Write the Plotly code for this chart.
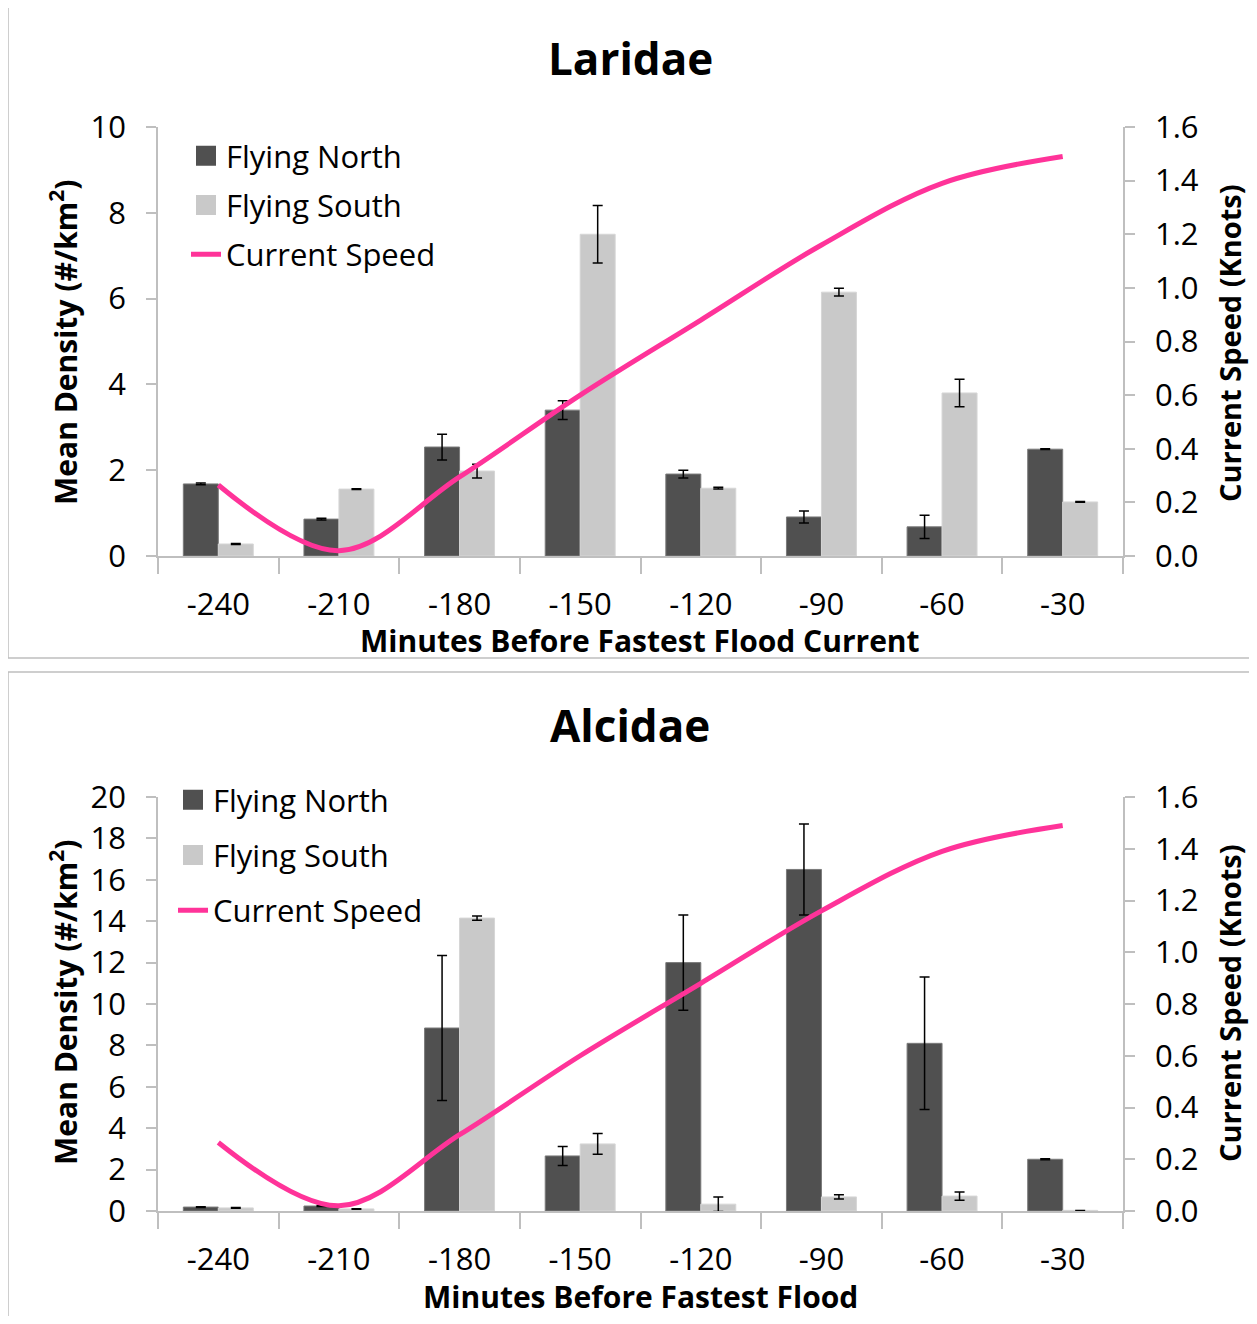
import plotly.graph_objects as go

# Reference geometry is measured in a 1257x1324 frame; the page body adds an 8px offset,
# so the figure is drawn 16px smaller and every reference position is shifted by 8px.
REF_W, REF_H = 1257, 1324
OFF = 8
W, H = REF_W - 2 * OFF, REF_H - 2 * OFF

categories = ["-240", "-210", "-180", "-150", "-120", "-90", "-60", "-30"]
current_speed = [0.265, 0.02, 0.295, 0.60, 0.88, 1.16, 1.39, 1.49]

lar_north = [1.68, 0.86, 2.54, 3.40, 1.91, 0.91, 0.68, 2.49]
lar_north_err = [0.02, 0.02, 0.30, 0.22, 0.09, 0.14, 0.27, 0.01]
lar_south = [0.28, 1.56, 1.98, 7.50, 1.58, 6.15, 3.80, 1.26]
lar_south_err = [0.01, 0.01, 0.16, 0.67, 0.02, 0.09, 0.32, 0.01]

alc_north = [0.19, 0.24, 8.84, 2.66, 12.0, 16.5, 8.1, 2.5]
alc_north_err = [0.02, 0.02, 3.5, 0.46, 2.3, 2.2, 3.2, 0.03]
alc_south = [0.15, 0.10, 14.15, 3.24, 0.33, 0.68, 0.72, 0.03]
alc_south_err = [0.02, 0.01, 0.1, 0.5, 0.35, 0.1, 0.2, 0.0]

FONT = "Open Sans"
DARK = "#505050"
LIGHT = "#c9c9c9"
PINK = "#ff3399"
AXC = "#bfbfbf"


def px_x(v):
    return (v - OFF) / W


def px_y(v):
    return 1 - (v - OFF) / H


fig = go.Figure()

panels = [
    dict(xa="x", ya="y", ya2="y2", north=lar_north, ne=lar_north_err, south=lar_south,
         se=lar_south_err, legend="legend"),
    dict(xa="x2", ya="y3", ya2="y4", north=alc_north, ne=alc_north_err, south=alc_south,
         se=alc_south_err, legend="legend2"),
]

for p in panels:
    fig.add_trace(go.Bar(
        x=categories, y=p["north"], name="Flying North", xaxis=p["xa"], yaxis=p["ya"],
        marker=dict(color=DARK, line=dict(color="#7a7a7a", width=1)),
        error_y=dict(type="data", array=p["ne"], color="black", thickness=1.5, width=5),
        showlegend=False,
    ))
    fig.add_trace(go.Bar(
        x=categories, y=p["south"], name="Flying South", xaxis=p["xa"], yaxis=p["ya"],
        marker=dict(color=LIGHT, line=dict(color="#d6d6d6", width=1)),
        error_y=dict(type="data", array=p["se"], color="black", thickness=1.5, width=5),
        showlegend=False,
    ))
    # legend swatches (larger squares than the default bar swatch)
    for key, nm, col in (("n", "Flying North", DARK), ("s", "Flying South", LIGHT)):
        fig.add_trace(go.Scatter(
            x=[None], y=[None], name=nm, xaxis=p["xa"], yaxis=p["ya"], mode="markers",
            marker=dict(symbol="square", size=16, color=col, line=dict(color=col, width=4)),
            legend=p["legend"], legendgroup=key + p["legend"], hoverinfo="skip",
        ))
    fig.add_trace(go.Scatter(
        x=categories, y=current_speed, name="Current Speed", xaxis=p["xa"], yaxis=p["ya2"],
        mode="lines", line=dict(color=PINK, width=5, shape="spline", smoothing=1.0),
        legend=p["legend"], legendgroup="c" + p["legend"],
    ))

xdom = [px_x(158), px_x(1123)]
tickfont = dict(family=FONT, size=31, color="black")

xcommon = dict(type="category", range=[-0.5, 7.5], tickson="boundaries", ticks="outside",
               ticklen=16, tickcolor=AXC, tickwidth=1.5, showline=True, linecolor=AXC,
               linewidth=1.5, showgrid=False, zeroline=False, tickfont=tickfont,
               ticklabelstandoff=20, automargin=False, fixedrange=True,
               categoryorder="array", categoryarray=categories)
ycommon = dict(ticks="outside", ticklen=10, tickcolor=AXC, tickwidth=1.5, showline=True,
               linecolor=AXC, linewidth=1.5, showgrid=False, zeroline=False,
               tickfont=tickfont, ticklabelstandoff=14, automargin=False, fixedrange=True)

top_dom = [px_y(556), px_y(127)]
bot_dom = [px_y(1211), px_y(797)]

fig.update_layout(
    width=W, height=H, margin=dict(l=0, r=0, t=0, b=0, autoexpand=False),
    paper_bgcolor="white", plot_bgcolor="white",
    barmode="group", bargap=0.42, bargroupgap=0,
    font=dict(family=FONT, color="black"),
    xaxis=dict(domain=xdom, anchor="y", **xcommon),
    yaxis=dict(domain=top_dom, anchor="x", range=[0, 10], dtick=2, **ycommon),
    yaxis2=dict(overlaying="y", side="right", anchor="x", range=[0, 1.6], dtick=0.2,
                tickformat=".1f", **ycommon),
    xaxis2=dict(domain=xdom, anchor="y3", **xcommon),
    yaxis3=dict(domain=bot_dom, anchor="x2", range=[0, 20], dtick=2, **ycommon),
    yaxis4=dict(overlaying="y3", side="right", anchor="x2", range=[0, 1.6], dtick=0.2,
                tickformat=".1f", **ycommon),
    legend=dict(x=px_x(186), y=px_y(129), xanchor="left", yanchor="top",
                font=dict(family=FONT, size=31, color="black"), tracegroupgap=6,
                bgcolor="rgba(0,0,0,0)", itemwidth=30, itemsizing="trace"),
    legend2=dict(x=px_x(173), y=px_y(773), xanchor="left", yanchor="top",
                 font=dict(family=FONT, size=31, color="black"), tracegroupgap=12,
                 bgcolor="rgba(0,0,0,0)", itemwidth=30, itemsizing="trace"),
    shapes=[
        dict(type="rect", xref="paper", yref="paper", x0=px_x(8), x1=px_x(1253),
             y0=px_y(658), y1=px_y(5), line=dict(color=AXC, width=1.5)),
        dict(type="rect", xref="paper", yref="paper", x0=px_x(8), x1=px_x(1253),
             y0=px_y(1330), y1=px_y(672), line=dict(color=AXC, width=1.5)),
    ],
)

ann = []


def add_text(text, x, y, size, bold=True, angle=0):
    ann.append(dict(text=("<b>%s</b>" % text) if bold else text, x=px_x(x), y=px_y(y),
                    xref="paper", yref="paper", showarrow=False, textangle=angle,
                    xanchor="center", yanchor="middle",
                    font=dict(family=FONT, size=size, color="black")))


add_text("Laridae", 630, 58, 44)
add_text("Alcidae", 630, 725, 44)
add_text("Minutes Before Fastest Flood Current", 640, 640, 30)
add_text("Minutes Before Fastest Flood", 640, 1296, 30)
add_text("Mean Density (#/km<sup>2</sup>)", 64, 343, 30, angle=-90)
add_text("Current Speed (Knots)", 1229, 343, 29, angle=-90)
add_text("Mean Density (#/km<sup>2</sup>)", 64, 1003, 30, angle=-90)
add_text("Current Speed (Knots)", 1229, 1003, 29, angle=-90)
fig.update_layout(annotations=ann)

fig.write_html("out.html")
